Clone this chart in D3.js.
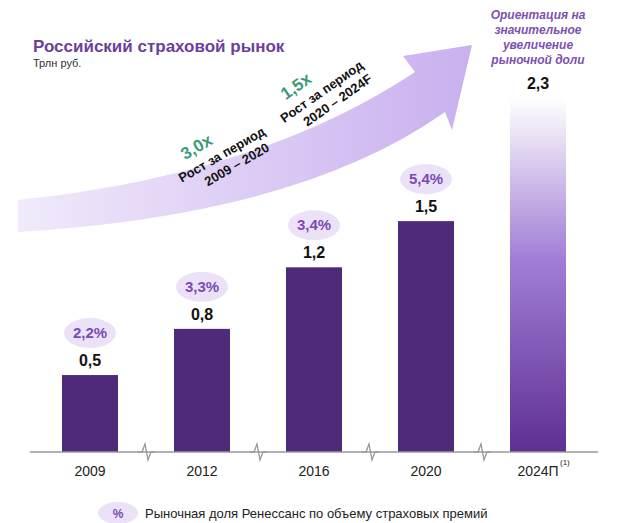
<!DOCTYPE html><html><head><meta charset="utf-8"><script src="https://cdn.jsdelivr.net/npm/d3@7"></script>
<style>body{margin:0;background:#fff;font-family:'Liberation Sans',Arial,sans-serif}</style></head><body><svg id="c" width="620" height="523"></svg>
<script>
const categories=["2009","2012","2016","2020","2024П"];
const values=[0.5,0.8,1.2,1.5,2.3];
const valueLabels=["0,5","0,8","1,2","1,5","2,3"];
const shares=["2,2%","3,3%","3,4%","5,4%",null];
const svg=d3.select("#c");
const defs=svg.append("defs");
const g1=defs.append("linearGradient").attr("id","lb").attr("x1",0).attr("y1",0).attr("x2",0).attr("y2",1);
g1.append("stop").attr("offset","0").attr("stop-color","#ffffff");
g1.append("stop").attr("offset","0.45").attr("stop-color","#a27fd6");
g1.append("stop").attr("offset","1").attr("stop-color","#5e2f93");
const g2=defs.append("linearGradient").attr("id","ar").attr("x1",0).attr("y1",0).attr("x2",1).attr("y2",0);
g2.append("stop").attr("offset","0").attr("stop-color","#f1eafb");
g2.append("stop").attr("offset","1").attr("stop-color","#c9b0ef");
const x=d3.scaleBand().domain(categories).range([34,594]).paddingInner(0.5).paddingOuter(0.25);
const y=d3.scaleLinear().domain([0,2.3]).range([452,98]);
svg.append("path").attr("fill","url(#ar)")
 .attr("d","M18,232 Q300,215 445,112 L452,130 L472,45 L403,56 L415,72 Q260,175 18,200 Z");
svg.selectAll("rect.b").data(categories).join("rect")
 .attr("x",d=>x(d)).attr("width",x.bandwidth())
 .attr("y",(d,i)=>y(values[i])).attr("height",(d,i)=>452-y(values[i]))
 .attr("fill",(d,i)=>i===4?"url(#lb)":"#4f2a7a");
svg.append("line").attr("x1",30).attr("x2",598).attr("y1",452).attr("y2",452).attr("stroke","#999").attr("stroke-width",1.3);
for(let i=0;i<4;i++){const cx=(x(categories[i])+x.bandwidth()+x(categories[i+1]))/2;
 svg.append("path").attr("d",`M${cx-8},452 L${cx-4},452 L${cx-1},444 L${cx+2},460 L${cx+5},452 L${cx+8},452`).attr("fill","none").attr("stroke","#999").attr("stroke-width",1.3);}
svg.selectAll("text.cat").data(categories).join("text").attr("x",d=>x(d)+x.bandwidth()/2).attr("y",476)
 .attr("text-anchor","middle").attr("font-size",14).attr("fill","#222").text(d=>d);
svg.append("text").attr("x",x("2024П")+x.bandwidth()/2+22).attr("y",465).attr("font-size",8).attr("fill","#222").text("(1)");
svg.selectAll("text.v").data(categories).join("text").attr("x",d=>x(d)+x.bandwidth()/2).attr("y",(d,i)=>y(values[i])-9)
 .attr("text-anchor","middle").attr("font-size",16).attr("font-weight","bold").attr("fill","#111").text((d,i)=>valueLabels[i]);
categories.forEach((d,i)=>{ if(!shares[i])return; const cx=x(d)+x.bandwidth()/2, cy=y(values[i])-42;
 svg.append("ellipse").attr("cx",cx).attr("cy",cy).attr("rx",26).attr("ry",15).attr("fill","#ece2f8");
 svg.append("text").attr("x",cx).attr("y",cy+5).attr("text-anchor","middle").attr("font-size",15).attr("font-weight","bold").attr("fill","#7a4db3").text(shares[i]);});
svg.append("text").attr("x",33).attr("y",52).attr("font-size",17).attr("font-weight","bold").attr("fill","#6b3fa0").text("Российский страховой рынок");
svg.append("text").attr("x",33).attr("y",67).attr("font-size",11).attr("fill","#333").text("Трлн руб.");
["Ориентация на","значительное","увеличение","рыночной доли"].forEach((t,i)=>svg.append("text").attr("x",538).attr("y",19+i*15)
 .attr("text-anchor","middle").attr("font-size",12).attr("font-style","italic").attr("font-weight","bold").attr("fill","#7b52b0").text(t));
function rot(tx,ty,a,lines){const gg=svg.append("g").attr("transform",`translate(${tx},${ty}) rotate(${a})`);
 lines.forEach(l=>gg.append("text").attr("x",l[0]).attr("y",l[1]).attr("text-anchor","middle").attr("font-size",l[2]).attr("font-weight","bold").attr("fill",l[3]).text(l[4]));}
rot(222,155,-30,[[-18,-14,17,"#3a9a78","3,0x"],[0,4,13,"#111","Рост за период"],[8,20,13,"#111","2009 – 2020"]]);
rot(322,92,-35,[[-18,-14,17,"#3a9a78","1,5x"],[0,4,13,"#111","Рост за период"],[8,20,13,"#111","2020 – 2024F"]]);
svg.append("ellipse").attr("cx",118).attr("cy",513).attr("rx",20).attr("ry",11).attr("fill","#ece2f8");
svg.append("text").attr("x",118).attr("y",518).attr("text-anchor","middle").attr("font-size",12).attr("font-weight","bold").attr("fill","#7a4db3").text("%");
svg.append("text").attr("x",145).attr("y",518).attr("font-size",13).attr("fill","#222").text("Рыночная доля Ренессанс по объему страховых премий");
</script></body></html>
